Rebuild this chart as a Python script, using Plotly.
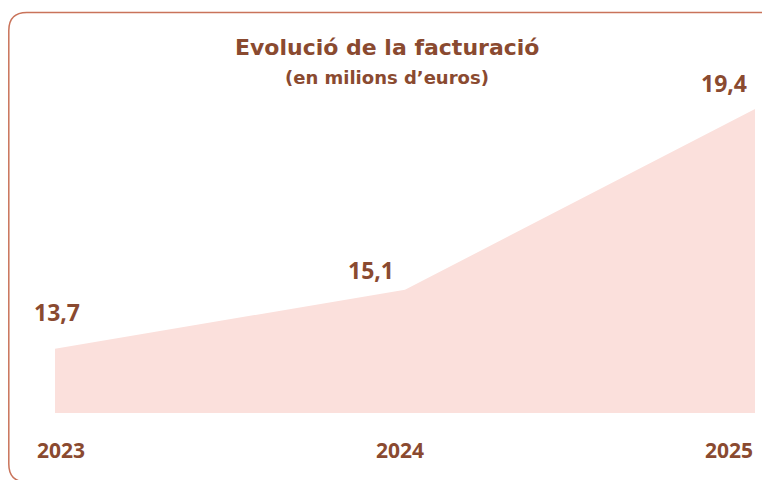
import plotly.graph_objects as go

years = ["2023", "2024", "2025"]
revenue = [13.7, 15.1, 19.4]
value_labels = ["13,7", "15,1", "19,4"]

brown = "#8A4A30"
border = "#C9735A"
fill = "#FBE0DC"

# the page has an 8px body margin, so screen coords = figure coords + 8
OFF = 8
W, H = 770, 480
L, R, T, B = 47, 23, 72, 75
pw, ph = W - L - R, H - T - B


def px(sx):
    return (sx - OFF - L) / pw


def py(sy):
    return (H - B - (sy - OFF)) / ph


xs = [0, 1, 2]

fig = go.Figure()
fig.add_trace(go.Scatter(
    x=xs, y=revenue, mode="lines", fill="tozeroy",
    fillcolor=fill, line=dict(width=0, color=fill),
    hoverinfo="skip", showlegend=False,
))

# rounded frame (screen coords)
r = 18
x0, x1, y0, y1 = 8.8, 783, 12.5, 482
path = (f"M {px(x0 + r)},{py(y0)} L {px(x1 - r)},{py(y0)} "
        f"Q {px(x1)},{py(y0)} {px(x1)},{py(y0 + r)} "
        f"L {px(x1)},{py(y1 - r)} Q {px(x1)},{py(y1)} {px(x1 - r)},{py(y1)} "
        f"L {px(x0 + r)},{py(y1)} Q {px(x0)},{py(y1)} {px(x0)},{py(y1 - r)} "
        f"L {px(x0)},{py(y0 + r)} Q {px(x0)},{py(y0)} {px(x0 + r)},{py(y0)} Z")
fig.add_shape(type="path", path=path, xref="paper", yref="paper",
              line=dict(color=border, width=1.5), layer="above")

font = "'Open Sans', sans-serif"
title_font = "'DejaVu Sans', sans-serif"

# value labels, offset from their points
shifts = [(2, 37), (-34, 20), (-31, 26)]
for i, (dx, dy) in enumerate(shifts):
    fig.add_annotation(x=xs[i], y=revenue[i], text=value_labels[i],
                       xref="x", yref="y", showarrow=False,
                       xshift=dx, yshift=dy,
                       font=dict(family=font, size=23, color=brown, weight="bold"))

# year labels
year_x = [61, 400, 729]
for i, yx in enumerate(year_x):
    fig.add_annotation(x=px(yx), y=py(450), text=years[i],
                       xref="paper", yref="paper", showarrow=False,
                       xanchor="center", yanchor="middle",
                       font=dict(family=font, size=21, color=brown, weight="bold"))

fig.add_annotation(x=px(387), y=py(48), text="Evolució de la facturació",
                   xref="paper", yref="paper", showarrow=False,
                   xanchor="center", yanchor="middle",
                   font=dict(family=title_font, size=22, color=brown, weight="bold"))
fig.add_annotation(x=px(387), y=py(77), text="(en milions d’euros)",
                   xref="paper", yref="paper", showarrow=False,
                   xanchor="center", yanchor="middle",
                   font=dict(family=title_font, size=18, color=brown, weight="bold"))

fig.update_xaxes(range=[0, 2], visible=False, fixedrange=True)
fig.update_yaxes(range=[12.17, 12.17 + ph / 42.05], visible=False, fixedrange=True)
fig.update_layout(
    width=W, height=H,
    margin=dict(l=L, r=R, t=T, b=B),
    plot_bgcolor="white", paper_bgcolor="white",
    showlegend=False,
)
fig.write_html("out.html")
